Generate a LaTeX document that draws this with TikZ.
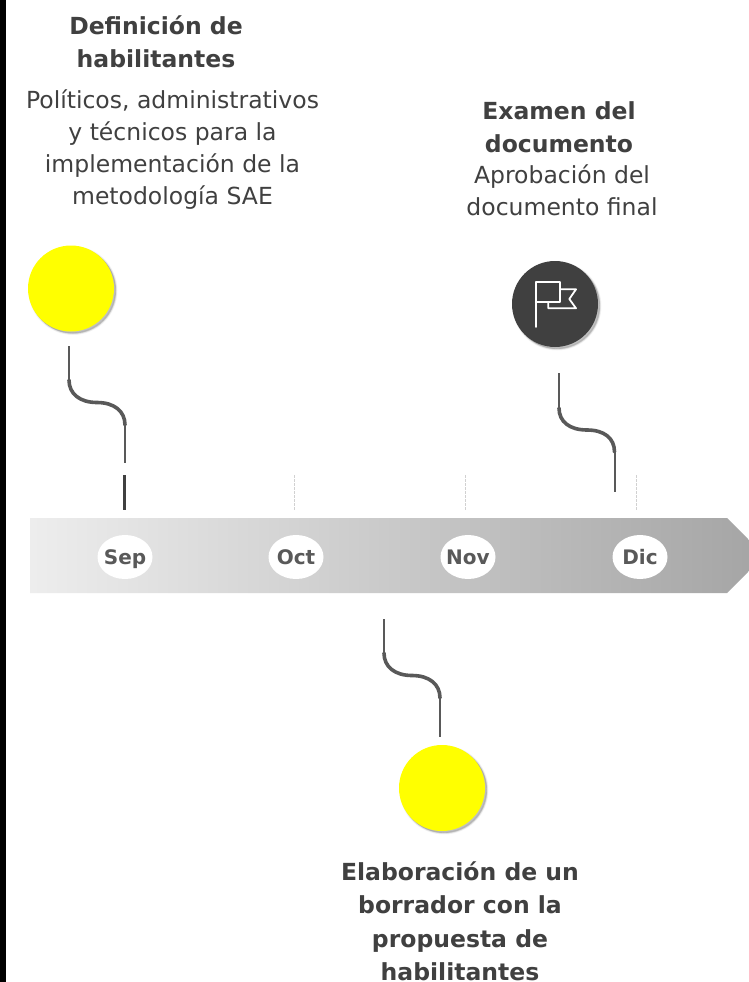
\documentclass[tikz,border=0pt]{standalone}
\usepackage{fontspec}
\setmainfont{DejaVu Sans}
\usetikzlibrary{shapes.geometric}
\definecolor{linegrey}{HTML}{595959}
\definecolor{darkdisc}{HTML}{404040}
\definecolor{yel}{HTML}{FFFF00}
\tikzset{
  x=1pt,y=-1pt,
  softshadow/.style={
    preaction={fill=black,opacity=.035,transform canvas={shift={(2pt,-2pt)}},draw=black,line width=3pt},
    preaction={fill=black,opacity=.05,transform canvas={shift={(2pt,-2pt)}},draw=black,line width=2pt},
    preaction={fill=black,opacity=.07,transform canvas={shift={(2pt,-2pt)}},draw=black,line width=.8pt},
    preaction={fill=black,opacity=.10,transform canvas={shift={(1.5pt,-1.5pt)}}}},
  disc/.style={circle,minimum size=86pt,inner sep=0pt,softshadow},
  thinline/.style={draw=linegrey,line width=2pt},
  curveline/.style={draw=linegrey,line width=3.6pt,line cap=round},
  tickmark/.style={draw=black!18,line width=.7pt,dash pattern=on 3pt off 1pt},
  month/.style={shape=ellipse,fill=white,minimum width=55pt,minimum height=44pt,inner xsep=-4pt,inner ysep=0pt,
    text height=15pt,text depth=0pt,text=linegrey,font=\fontsize{20}{24}\selectfont\bfseries},
  titletext/.style={align=center,text=darkdisc,font=\fontsize{23.5}{33.5}\selectfont\bfseries},
  bodytext/.style={align=center,text=darkdisc,font=\fontsize{23.5}{32}\selectfont},
}
\begin{document}
\begin{tikzpicture}
\useasboundingbox (0,0) rectangle (749,982);
\fill[white] (0,0) rectangle (749,982);
\fill[black] (0,0) rectangle (6,982);

% band
\shade[left color=black!7,right color=black!35] (30,518) -- (727,518) -- (749,540) -- (749,571) -- (727,593) -- (30,593) -- cycle;

\node[month] (sep) at (125,557) {Sep};
\node[month] (oct) at (296,557) {Oct};
\node[month] (nov) at (468,557) {Nov};
\node[month] (dic) at (640,557) {Dic};

% discs
\node[disc,fill=yel] (d1) at (71,288.5) {};
\node[disc,fill=darkdisc] (d2) at (555,304) {};
\node[disc,fill=yel] (d3) at (442,788) {};

% flag icon
\draw[white,line width=1.8pt,line cap=round,line join=round]
  (535.7,327) -- (535.7,282) -- (560,282) -- (560,302) -- (535.7,302);
\draw[white,line width=1.8pt,line cap=round,line join=round]
  (560,289.3) -- (576,289.3) -- (569.3,299) -- (576,308.3) -- (548.3,308.3) -- (548.3,302);

% connector 1
\coordinate (c1a) at (69,346);
\coordinate (c1b) at (69,380);
\coordinate (c1m) at (97,402.5);
\coordinate (c1c) at (125,425);
\coordinate (c1d) at (125,463);
\coordinate (c1e) at (124.5,475);
\coordinate (c1f) at (124.5,510);
\draw[thinline] (c1a) -- (c1b);
\draw[curveline] (c1b) .. controls (69,394) and (80,402.5) .. (c1m) .. controls (114,402.5) and (125,411) .. (c1c);
\draw[thinline] (c1c) -- (c1d);
\draw[draw=darkdisc,line width=2.8pt] (c1e) -- (c1f);

% connector 2
\coordinate (c2a) at (559,373);
\coordinate (c2b) at (559,408);
\coordinate (c2m) at (587,430);
\coordinate (c2c) at (614.5,452);
\coordinate (c2d) at (614.5,492);
\draw[thinline] (c2a) -- (c2b);
\draw[curveline] (c2b) .. controls (559,422) and (570,430) .. (c2m) .. controls (604,430) and (614.5,438) .. (c2c);
\draw[thinline] (c2c) -- (c2d);

% connector 3
\coordinate (c3a) at (384,619);
\coordinate (c3b) at (384,653);
\coordinate (c3m) at (412,675.5);
\coordinate (c3c) at (440,698);
\coordinate (c3d) at (440,737);
\draw[thinline] (c3a) -- (c3b);
\draw[curveline] (c3b) .. controls (384,667) and (395,675.5) .. (c3m) .. controls (429,675.5) and (440,684) .. (c3c);
\draw[thinline] (c3c) -- (c3d);

% dashed ticks
\coordinate (t1a) at (294.5,475); \coordinate (t1b) at (294.5,511);
\coordinate (t2a) at (465.5,475); \coordinate (t2b) at (465.5,511);
\coordinate (t3a) at (636.5,475); \coordinate (t3b) at (636.5,511);
\draw[tickmark] (t1a) -- (t1b);
\draw[tickmark] (t2a) -- (t2b);
\draw[tickmark] (t3a) -- (t3b);

% texts
\node[titletext] (t1) at (156,42) {Definición de\\habilitantes};
\node[bodytext] (b1) at (172.5,149.5) {Políticos, administrativos\\y técnicos para la\\implementación de la\\metodología SAE};
\node[titletext] (t2) at (559,127) {Examen del\\documento};
\node[bodytext] (b2) at (562,190) {Aprobación del\\documento final};
\node[titletext] (t3) at (460,921.5) {Elaboración de un\\borrador con la\\propuesta de\\habilitantes};
\end{tikzpicture}
\end{document}
